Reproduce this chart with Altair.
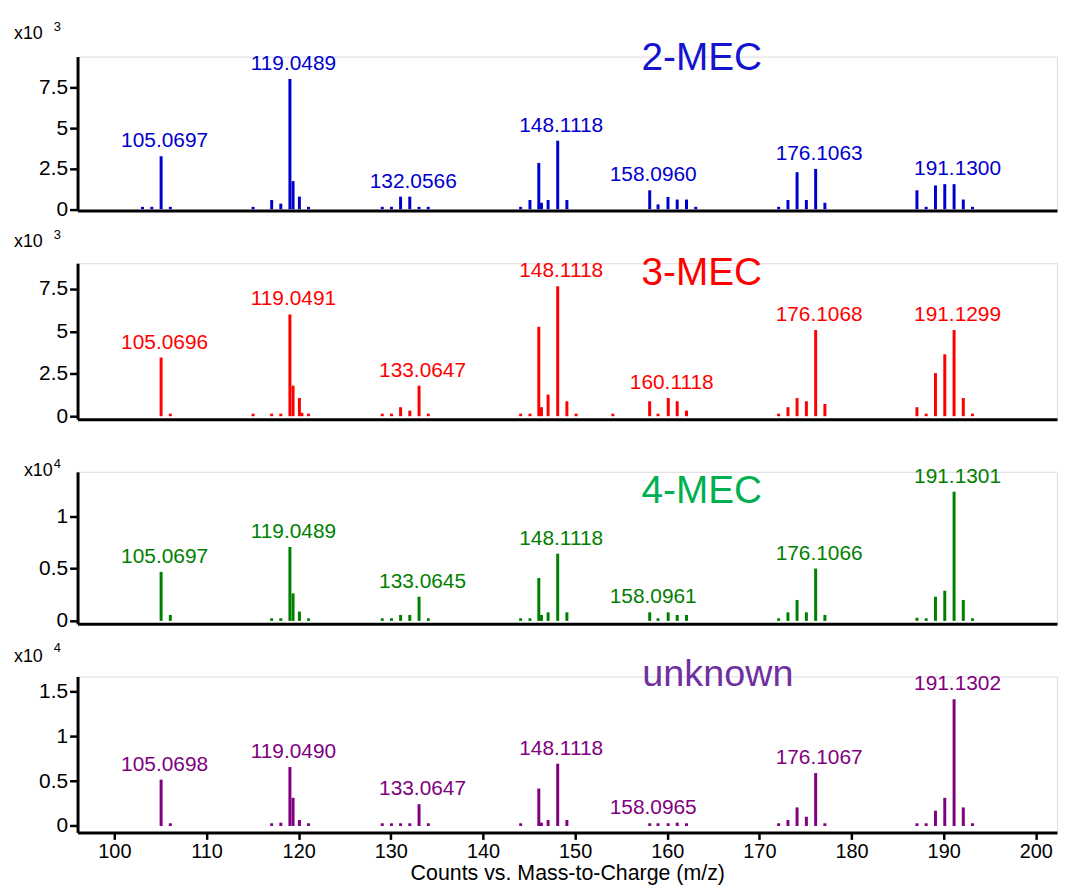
import altair as alt
import pandas as pd

# ---------------- data ----------------
X_DOMAIN = [96.0, 202.3]
X_TICKS = [100, 110, 120, 130, 140, 150, 160, 170, 180, 190, 200]

NAMES = ["2-MEC", "3-MEC", "4-MEC", "unknown"]
EXPONENTS = ["3", "3", "4", "4"]
Y_TICKS = [[0, 2.5, 5, 7.5], [0, 2.5, 5, 7.5], [0, 0.5, 1], [0, 0.5, 1, 1.5]]

# 2-MEC (counts x10^3)
MZ_2MEC = [103.05, 104.06, 105.0697, 106.07, 115.05, 117.07, 118.06, 119.0489, 119.39, 120.08,
           121.07, 129.07, 130.07, 131.06, 132.0566, 133.06, 134.06, 144.09, 145.10, 146.06,
           146.35, 147.07, 148.1118, 149.11, 158.0960, 159.0, 160.08, 161.08, 162.09, 163.09,
           172.09, 173.10, 174.09, 175.10, 176.1063, 177.11, 187.10, 188.10, 189.11, 190.12,
           191.1300, 192.13, 193.13]
INT_2MEC = [0.15, 0.15, 3.27, 0.15, 0.15, 0.57, 0.35, 8.04, 1.74, 0.78,
            0.15, 0.15, 0.15, 0.78, 0.78, 0.15, 0.15, 0.15, 0.57, 2.86,
            0.40, 0.57, 4.23, 0.57, 1.17, 0.30, 0.76, 0.60, 0.60, 0.15,
            0.15, 0.57, 2.29, 0.57, 2.49, 0.40, 1.17, 0.15, 1.47, 1.55,
            1.55, 0.60, 0.15]
LABELS_2MEC = ["105.0697", "119.0489", "132.0566", "148.1118", "158.0960", "176.1063", "191.1300"]

# 3-MEC (counts x10^3)
MZ_3MEC = [105.0696, 106.07, 115.05, 117.07, 118.06, 119.0491, 119.39, 120.08, 120.35, 121.07,
           129.07, 130.07, 131.06, 132.06, 133.0647, 134.07, 144.09, 145.10, 146.06, 146.35,
           147.07, 148.1118, 149.11, 150.11, 154.10, 158.09, 159.0, 160.1118, 161.08, 162.09,
           172.09, 173.10, 174.09, 175.10, 176.1068, 177.11, 187.10, 188.10, 189.11, 190.12,
           191.1299, 192.13, 193.13]
INT_3MEC = [3.46, 0.15, 0.15, 0.15, 0.15, 6.00, 1.80, 1.07, 0.20, 0.15,
            0.15, 0.15, 0.53, 0.33, 1.80, 0.15, 0.15, 0.15, 5.27, 0.53,
            1.27, 7.66, 0.88, 0.15, 0.15, 0.88, 0.15, 1.07, 0.88, 0.33,
            0.15, 0.53, 1.07, 0.88, 5.08, 0.72, 0.53, 0.15, 2.54, 3.65,
            5.08, 1.07, 0.15]
LABELS_3MEC = ["105.0696", "119.0491", "133.0647", "148.1118", "160.1118", "176.1068", "191.1299"]

# 4-MEC (counts x10^4)
MZ_4MEC = [105.0697, 106.07, 117.07, 118.06, 119.0489, 119.39, 120.08, 121.07, 129.07, 130.07,
           131.06, 132.06, 133.0645, 134.07, 144.09, 145.10, 146.06, 146.35, 147.07, 148.1118,
           149.11, 158.0961, 159.0, 160.10, 161.08, 162.09, 172.09, 173.10, 174.09, 175.10,
           176.1066, 177.11, 187.10, 188.10, 189.11, 190.12, 191.1301, 192.13, 193.13]
INT_4MEC = [0.468, 0.057, 0.025, 0.025, 0.706, 0.263, 0.089, 0.025, 0.025, 0.025,
            0.057, 0.057, 0.231, 0.025, 0.025, 0.025, 0.410, 0.057, 0.082, 0.642,
            0.082, 0.082, 0.025, 0.082, 0.057, 0.057, 0.025, 0.082, 0.200, 0.082,
            0.500, 0.057, 0.030, 0.025, 0.231, 0.288, 1.234, 0.200, 0.025]
LABELS_4MEC = ["105.0697", "119.0489", "133.0645", "148.1118", "158.0961", "176.1066", "191.1301"]

# unknown (counts x10^4)
MZ_UNK = [105.0698, 106.07, 117.07, 118.06, 119.0490, 119.39, 120.08, 121.07, 129.07, 130.07,
          131.06, 132.06, 133.0647, 134.07, 144.09, 146.06, 146.35, 147.07, 148.1118, 149.11,
          158.0965, 159.0, 160.10, 161.08, 162.09, 172.09, 173.10, 174.09, 175.10, 176.1067,
          177.11, 187.10, 188.10, 189.11, 190.12, 191.1302, 192.13, 193.13]
INT_UNK = [0.517, 0.030, 0.030, 0.037, 0.657, 0.314, 0.066, 0.030, 0.030, 0.030,
           0.030, 0.030, 0.243, 0.030, 0.030, 0.417, 0.037, 0.066, 0.694, 0.066,
           0.030, 0.030, 0.030, 0.037, 0.030, 0.030, 0.066, 0.207, 0.103, 0.590,
           0.030, 0.030, 0.030, 0.170, 0.314, 1.413, 0.207, 0.030]
LABELS_UNK = ["105.0698", "119.0490", "133.0647", "148.1118", "158.0965", "176.1067", "191.1302"]

SERIES_MZ = [MZ_2MEC, MZ_3MEC, MZ_4MEC, MZ_UNK]
SERIES_INT = [INT_2MEC, INT_3MEC, INT_4MEC, INT_UNK]
SERIES_LABELS = [LABELS_2MEC, LABELS_3MEC, LABELS_4MEC, LABELS_UNK]
NAME_MZ = [157.2, 157.2, 157.2, 157.3]

# ---------------- styling / layout ----------------
BAR_COLORS = ["#0000CC", "#FF0000", "#008000", "#800080"]
NAME_COLORS = ["#1414CF", "#FF0000", "#00B050", "#7030A0"]
Y_DOMAINS = [[-0.08, 9.42], [-0.176, 9.02], [-0.028, 1.424], [-0.072, 1.667]]
HEIGHTS = [155, 157, 153, 157]
WIDTH = 986
NAME_Y = [13, 22, 31, 10]
NAME_SIZE = [39, 39, 39, 38]
X10_X = [-64, -64, -54, -64]
X10_Y = [-18, -16, 4, -15]
SUP_Y = [-26, -24, -4, -25]
FONT = "Liberation Sans"


def panel(i):
    last = i == 3
    df = pd.DataFrame({"mz": SERIES_MZ[i], "I": SERIES_INT[i]})
    df["base"] = 0.0
    lookup = dict(zip(SERIES_MZ[i], SERIES_INT[i]))
    lab = pd.DataFrame({"label": SERIES_LABELS[i],
                        "mz": [float(s) for s in SERIES_LABELS[i]],
                        "I": [lookup[float(s)] for s in SERIES_LABELS[i]]})

    if last:
        xaxis = alt.Axis(values=X_TICKS, format="d", grid=False, domainWidth=3, domainColor="black",
                         tickWidth=2.5, tickSize=7, tickColor="black", labelFontSize=20,
                         labelColor="black", labelPadding=2, labelFont=FONT,
                         title="Counts vs. Mass-to-Charge (m/z)", titleFontSize=21.5,
                         titleFontWeight="normal", titleColor="black", titlePadding=1, titleFont=FONT)
    else:
        xaxis = alt.Axis(labels=False, ticks=False, grid=False, domainWidth=3,
                         domainColor="black", title=None)
    x = alt.X("mz:Q", scale=alt.Scale(domain=X_DOMAIN, nice=False, zero=False), axis=xaxis)
    y = alt.Y("I:Q", scale=alt.Scale(domain=Y_DOMAINS[i], nice=False, zero=False),
              axis=alt.Axis(values=Y_TICKS[i], format=".2~f", title=None, grid=False,
                            domainWidth=3, domainColor="black", tickWidth=2.5, tickSize=8,
                            tickColor="black", labelFontSize=21, labelColor="black",
                            labelPadding=2, labelFont=FONT))

    bars = alt.Chart(df).mark_rule(strokeWidth=3, color=BAR_COLORS[i], strokeCap="butt").encode(
        x=x, y=y, y2="base:Q")
    labels = alt.Chart(lab).mark_text(fontSize=21, color=BAR_COLORS[i], baseline="alphabetic",
                                      dy=-9, dx=3.5, font=FONT).encode(
        x="mz:Q", y="I:Q", text="label:N")
    name = alt.Chart(pd.DataFrame({"name": [NAMES[i]], "mz": [NAME_MZ[i]]})).mark_text(
        fontSize=NAME_SIZE[i], color=NAME_COLORS[i], align="left", baseline="alphabetic",
        font=FONT).encode(x="mz:Q", y=alt.value(NAME_Y[i]), text="name:N")
    x10 = alt.Chart(pd.DataFrame({"t": ["x10"]})).mark_text(
        fontSize=18, color="black", align="left", baseline="alphabetic", font=FONT).encode(
        x=alt.value(X10_X[i]), y=alt.value(X10_Y[i]), text="t:N")
    sup = alt.Chart(pd.DataFrame({"t": [EXPONENTS[i]]})).mark_text(
        fontSize=13, color="black", align="left", baseline="alphabetic", font=FONT).encode(
        x=alt.value(-24), y=alt.value(SUP_Y[i]), text="t:N")

    return alt.layer(bars, labels, name, x10, sup).properties(width=WIDTH, height=HEIGHTS[i])


chart = alt.vconcat(*[panel(i) for i in range(4)], spacing=53, bounds="flush").properties(
    padding={"left": 5, "top": 9, "right": 0, "bottom": -2}
).configure_view(stroke=None).configure(font=FONT, background="white")

chart.save("out.html", embed_options={"renderer": "svg", "actions": False})
